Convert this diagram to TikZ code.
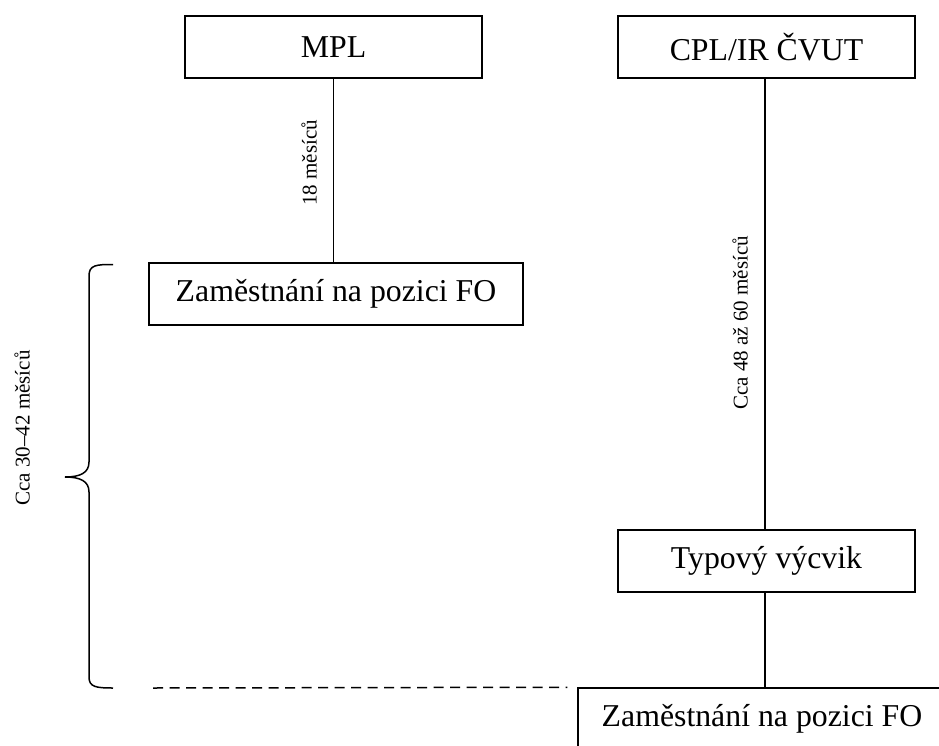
\documentclass[tikz,border=0pt]{standalone}
\usepackage{fontspec}
\setmainfont{Liberation Serif}
\begin{document}
\begin{tikzpicture}[x=1pt,y=-1pt,line width=1.5pt,
  box/.style={draw,rectangle,inner sep=0pt,minimum height=62pt,font=\fontsize{31.8}{36}\selectfont},
  lbl/.style={rotate=90,inner sep=0pt,font=\fontsize{21}{25}\selectfont}]
\useasboundingbox (0,0) rectangle (939,746);
\begin{scope}
\clip (0,0) rectangle (939,746);
\node[box,minimum width=297pt] (mpl) at (333.5,47) {MPL};
\node[box,minimum width=297pt] (cpl) at (766.5,47) {CPL/IR ČVUT};
\node[box,minimum width=374pt] (zam1) at (336,294) {Zaměstnání na pozici FO};
\node[box,minimum width=297pt] (typ) at (766.5,561) {Typový výcvik};
\node[box,minimum width=368pt] (zam2) at (762,719) {Zaměstnání na pozici FO};
\draw (mpl.south) -- (mpl.south |- zam1.north);
\draw ([xshift=-1.5pt]cpl.south) -- ([xshift=-1.5pt]cpl.south |- typ.north);
\draw ([xshift=-1.5pt]typ.south) -- ([xshift=-1.5pt]typ.south |- zam2.north);
\node[lbl] (l18) at (309,163) {18 měsíců};
\node[lbl] (l48) at (740,323) {Cca 48 až 60 měsíců};
\node[lbl] (l30) at (22,428) {Cca 30–42 měsíců};
\coordinate (dstart) at (153,688);
\draw[dash pattern=on 10pt off 6.5pt] (dstart) -- ([xshift=-10pt]zam2.north west);
\draw (113,264.5) .. controls (96,264.5) and (89,265) .. (89,276) -- (89,462)
  .. controls (89,473) and (80,477) .. (65,477)
  .. controls (80,477) and (89,481) .. (89,492) -- (89,677)
  .. controls (89,687) and (96,688) .. (113,688);
\end{scope}
\end{tikzpicture}
\end{document}
